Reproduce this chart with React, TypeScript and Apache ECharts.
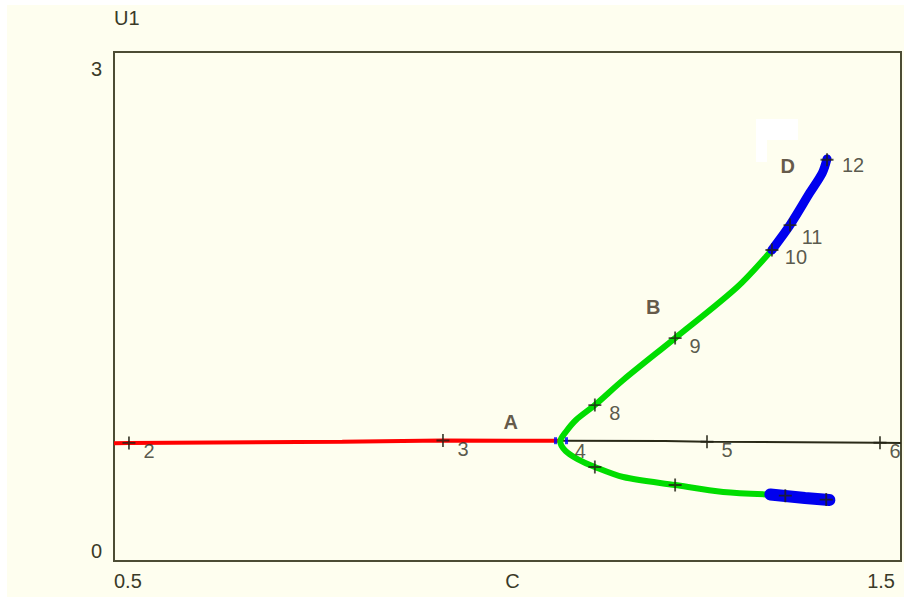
import React, { useEffect, useRef } from "react";
import * as echarts from "echarts";

// Trivial branch, stable part (red)
const stableTrivialC = [0.5, 0.519, 0.79, 0.918, 1.067];
const stableTrivialU1 = [0.694, 0.696, 0.703, 0.71, 0.709];

// Trivial branch past the bifurcation point (thin black)
const unstableTrivialC = [1.067, 1.2, 1.2535, 1.4733, 1.5];
const unstableTrivialU1 = [0.709, 0.707, 0.703, 0.697, 0.696];

// Bifurcating branch B (green), lower end -> fold -> upper end
const branchBC = [1.334, 1.274, 1.213, 1.147, 1.111, 1.089, 1.074, 1.067, 1.074, 1.087, 1.111, 1.147, 1.213, 1.292, 1.336];
const branchBU1 = [0.392, 0.407, 0.448, 0.495, 0.554, 0.601, 0.648, 0.705, 0.76, 0.831, 0.919, 1.067, 1.314, 1.615, 1.833];

// Branch D (blue), upper and lower pieces
const branchDUpperC = [1.336, 1.359, 1.384, 1.4, 1.406];
const branchDUpperU1 = [1.833, 1.98, 2.169, 2.287, 2.37];
const branchDLowerC = [1.334, 1.353, 1.378, 1.409];
const branchDLowerU1 = [0.392, 0.383, 0.371, 0.36];

// Labelled solution points
const pointLabels = ["2", "3", "5", "6", "8", "9", "10", "11", "12"];
const pointC = [0.519, 0.918, 1.2535, 1.4733, 1.111, 1.213, 1.336, 1.359, 1.406];
const pointU1 = [0.696, 0.71, 0.703, 0.697, 0.919, 1.314, 1.833, 1.98, 2.365];

// Unlabelled solution points on the lower half
const plainPointC = [1.111, 1.213, 1.353, 1.405];
const plainPointU1 = [0.554, 0.448, 0.385, 0.362];

// Bifurcation point label
const bifLabel = "4";
const bifC = 1.067;
const bifU1 = 0.709;
const bifMarkC = [1.061, 1.075];
const bifMarkU1 = [0.709, 0.709];

// Branch names
const branchNames = ["A", "B", "D"];
const branchNameC = [1.004, 1.185, 1.356];
const branchNameU1 = [0.819, 1.497, 2.328];

// Axis captions
const xAxisName = "C";
const yAxisName = "U1";

const zip = (xs: number[], ys: number[]) => xs.map((x, i) => [x, ys[i]]);

const PLUS = "path://M-1,-7H1V7H-1Z M-7,-1H7V1H-7Z";
const TEXT = "#3a3a28";
const FONT = "Liberation Sans";

export default function App() {
  const ref = useRef<HTMLDivElement>(null);

  useEffect(() => {
    if (!ref.current) return;
    const chart = echarts.init(ref.current, undefined, { renderer: "svg" });

    const labelOffsets: Record<string, number[]> = {
      "6": [15, 8],
      "10": [24, 7],
      "11": [22, 12],
      "12": [26, 5],
    };

    chart.setOption({
      animation: false,
      backgroundColor: "#fefeef",
      grid: {
        show: true,
        left: 107,
        top: 47,
        right: 3,
        bottom: 36,
        outerBoundsMode: "none",
        containLabel: false,
        borderColor: "#4c4c34",
        borderWidth: 2,
        backgroundColor: "transparent",
      },
      xAxis: {
        type: "value",
        min: 0.5,
        max: 1.5,
        interval: 0.5,
        axisLine: { show: false },
        axisTick: { show: false },
        splitLine: { show: false },
        axisLabel: {
          color: TEXT,
          fontFamily: FONT,
          fontSize: 20,
          margin: 10,
          padding: [0, 6, 0, 0],
          alignMinLabel: "left",
          alignMaxLabel: "right",
          // the middle position carries the axis caption
          formatter: (v: number) => (v === 1 ? "{c|" + xAxisName + "}" : String(v)),
          rich: {
            c: { color: TEXT, fontFamily: FONT, fontSize: 20, padding: [0, 0, 0, 16] },
          },
        },
      },
      yAxis: {
        type: "value",
        min: 0,
        max: 3,
        interval: 3,
        name: yAxisName,
        nameLocation: "end",
        nameGap: 24,
        nameTextStyle: { color: TEXT, fontFamily: FONT, fontSize: 20, align: "left" },
        axisLine: { show: false },
        axisTick: { show: false },
        splitLine: { show: false },
        axisLabel: {
          color: TEXT,
          fontFamily: FONT,
          fontSize: 20,
          margin: 12,
          padding: [7, 0, 0, 0],
          verticalAlignMinLabel: "bottom",
          verticalAlignMaxLabel: "top",
        },
      },
      graphic: [
        {
          type: "polygon",
          shape: {
            points: [
              [749, 114],
              [791, 114],
              [791, 135],
              [760, 135],
              [760, 157],
              [749, 157],
            ],
          },
          style: { fill: "#ffffff" },
          z: 1,
        },
      ],
      series: [
        {
          type: "line",
          data: zip(stableTrivialC, stableTrivialU1),
          showSymbol: false,
          lineStyle: { color: "#ff0000", width: 4 },
          z: 2,
        },
        {
          type: "line",
          data: zip(unstableTrivialC, unstableTrivialU1),
          showSymbol: false,
          lineStyle: { color: "#2a2a18", width: 2 },
          z: 2,
        },
        {
          type: "line",
          data: zip(branchBC, branchBU1),
          showSymbol: false,
          smooth: 0.3,
          lineStyle: { color: "#00dd00", width: 6, cap: "round", join: "round" },
          z: 3,
        },
        {
          type: "line",
          data: zip(branchDUpperC, branchDUpperU1),
          showSymbol: false,
          smooth: 0.3,
          lineStyle: { color: "#0000ee", width: 9, cap: "round", join: "round" },
          z: 4,
        },
        {
          type: "line",
          data: zip(branchDLowerC, branchDLowerU1),
          showSymbol: false,
          lineStyle: { color: "#0000ee", width: 12, cap: "round", join: "round" },
          z: 4,
        },
        {
          type: "scatter",
          data: zip(bifMarkC, bifMarkU1),
          symbol: "rect",
          symbolSize: [3, 7],
          itemStyle: { color: "#0000ff" },
          z: 5,
        },
        {
          type: "scatter",
          data: zip(plainPointC, plainPointU1),
          symbol: PLUS,
          symbolSize: 13,
          itemStyle: { color: "#222214" },
          z: 6,
        },
        {
          type: "scatter",
          data: pointLabels.map((name, i) => ({
            name,
            value: [pointC[i], pointU1[i]],
            label: { offset: labelOffsets[name] || [20, 8] },
          })),
          symbol: PLUS,
          symbolSize: 13,
          itemStyle: { color: "#222214" },
          label: {
            show: true,
            position: "inside",
            formatter: (p: any) => p.name,
            color: "#2e2e22",
            fontFamily: FONT,
            fontSize: 20,
          },
          z: 6,
        },
        {
          type: "scatter",
          data: [{ name: bifLabel, value: [bifC, bifU1] }],
          symbolSize: 1,
          itemStyle: { color: "rgba(0,0,0,0)" },
          label: {
            show: true,
            position: "inside",
            offset: [20, 10],
            formatter: (p: any) => p.name,
            color: "#2e2e22",
            fontFamily: FONT,
            fontSize: 20,
          },
          z: 6,
        },
        {
          type: "scatter",
          data: branchNames.map((name, i) => ({ name, value: [branchNameC[i], branchNameU1[i]] })),
          symbolSize: 1,
          itemStyle: { color: "rgba(0,0,0,0)" },
          label: {
            show: true,
            position: "inside",
            formatter: (p: any) => p.name,
            color: "#3c2e1c",
            fontFamily: FONT,
            fontWeight: "bold",
            fontSize: 20,
          },
          z: 6,
        },
      ],
    });

    return () => chart.dispose();
  }, []);

  return (
    <div
      style={{
        position: "fixed",
        left: 0,
        top: 0,
        width: 904,
        height: 599,
        background: "#ffffff",
      }}
    >
      <div
        ref={ref}
        style={{ position: "absolute", left: 7, top: 5, width: 897, height: 592 }}
      />
    </div>
  );
}
